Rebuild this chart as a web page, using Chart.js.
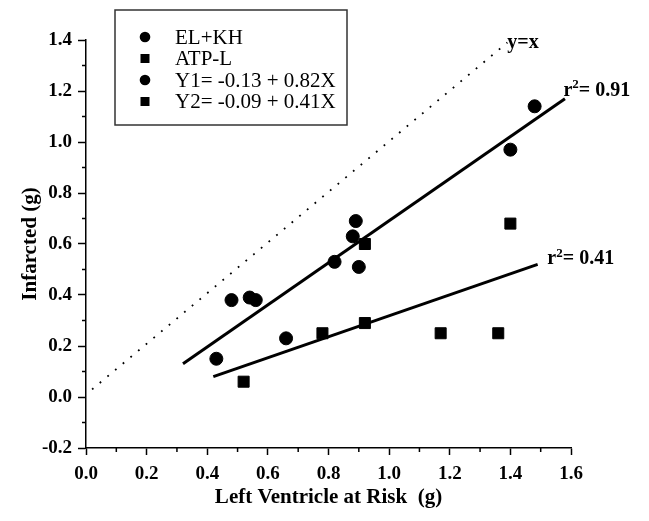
<!DOCTYPE html>
<html>
<head>
<meta charset="utf-8">
<script src="https://cdn.jsdelivr.net/npm/chart.js@4.4.1/dist/chart.umd.min.js"></script>
<style>
  body { margin: 0; background: #fff; }
  #wrap { width: 649px; height: 521px; position: relative; }
</style>
</head>
<body>
<div id="wrap"><canvas id="myChart"></canvas></div>
<script>
// datos
var elkhX = [0.43, 0.48, 0.54, 0.56, 0.66, 0.82, 0.89, 0.88, 0.90, 1.40, 1.48];
var elkhY = [0.15, 0.38, 0.39, 0.38, 0.23, 0.53, 0.69, 0.63, 0.51, 0.97, 1.14];
var atplX = [0.52, 0.78, 0.92, 0.92, 1.17, 1.36, 1.40];
var atplY = [0.06, 0.25, 0.29, 0.60, 0.25, 0.25, 0.68];

// rectas de ajuste y la diagonal y=x (extremos)
var fit1X = [0.32, 1.58];
var fit1Y = [0.13, 1.17];
var fit2X = [0.42, 1.49];
var fit2Y = [0.08, 0.52];
var identX = [0.02, 1.39];
var identY = [0.03, 1.39];

var legendLabels = ['EL+KH', 'ATP-L', 'Y1= -0.13 + 0.82X', 'Y2= -0.09 + 0.41X'];
var legendStyles = ['circle', 'rect', 'circle', 'rect'];

var xTicks = [0.0, 0.2, 0.4, 0.6, 0.8, 1.0, 1.2, 1.4, 1.6];
var yTicks = [-0.2, 0.0, 0.2, 0.4, 0.6, 0.8, 1.0, 1.2, 1.4];

// anotaciones en coordenadas de datos
var r2Labels = ['0.91', '0.41'];
var r2X = [1.575, 1.522];
var r2Y = [1.20, 0.54];
var yxLabel = 'y=x';
var yxX = 1.39;
var yxY = 1.39;

function pares(xs, ys) {
    var out = [];
    for (var i = 0; i < xs.length; i++) {
        out.push({x: xs[i], y: ys[i]});
    }
    return out;
}

var serif = '"Liberation Serif", "Times New Roman", serif';

var extras = {
    id: 'extras',
    afterDraw: function (chart) {
        var ctx = chart.ctx;
        var sx = chart.scales.x;
        var sy = chart.scales.y;
        ctx.save();

        // ticks menores (cada 0.1)
        ctx.strokeStyle = '#000';
        ctx.lineWidth = 1.5;
        ctx.beginPath();
        for (var i = 0; i < xTicks.length - 1; i++) {
            var px = sx.getPixelForValue((xTicks[i] + xTicks[i + 1]) / 2);
            ctx.moveTo(px, sx.top);
            ctx.lineTo(px, sx.top + 4);
        }
        for (var j = 0; j < yTicks.length - 1; j++) {
            var py = sy.getPixelForValue((yTicks[j] + yTicks[j + 1]) / 2);
            ctx.moveTo(sy.right, py);
            ctx.lineTo(sy.right - 4, py);
        }
        ctx.stroke();

        // etiquetas r2
        ctx.fillStyle = '#000';
        ctx.textBaseline = 'middle';
        ctx.textAlign = 'left';
        for (var k = 0; k < r2Labels.length; k++) {
            var tx = sx.getPixelForValue(r2X[k]);
            var ty = sy.getPixelForValue(r2Y[k]);
            ctx.font = 'bold 20px ' + serif;
            ctx.fillText('r', tx, ty);
            var w = ctx.measureText('r').width;
            ctx.font = 'bold 13px ' + serif;
            ctx.fillText('2', tx + w, ty - 6);
            var w2 = ctx.measureText('2').width;
            ctx.font = 'bold 20px ' + serif;
            ctx.fillText('= ' + r2Labels[k], tx + w + w2, ty);
        }
        ctx.font = 'bold 20px ' + serif;
        ctx.fillText(yxLabel, sx.getPixelForValue(yxX), sy.getPixelForValue(yxY));

        // leyenda con recuadro
        var bx = 115, by = 10, bw = 232, bh = 115;
        ctx.lineWidth = 1.5;
        ctx.strokeStyle = '#333';
        ctx.strokeRect(bx, by, bw, bh);
        ctx.font = '21px ' + serif;
        for (var m = 0; m < legendLabels.length; m++) {
            var ly = 37 + m * 21.5;
            ctx.beginPath();
            if (legendStyles[m] === 'circle') {
                ctx.arc(145, ly, 5.3, 0, Math.PI * 2);
            } else {
                ctx.rect(140.5, ly - 4.5, 9, 9);
            }
            ctx.fill();
            ctx.fillText(legendLabels[m], 175, ly + 1);
        }
        ctx.restore();
    }
};

var ctx = document.getElementById('myChart').getContext('2d');
var myChart = new Chart(ctx, {
    type: 'scatter',
    data: {
        datasets: [{
            label: 'EL+KH',
            data: pares(elkhX, elkhY),
            pointStyle: 'circle',
            pointRadius: 6.5,
            backgroundColor: '#000',
            borderColor: '#000',
            borderWidth: 1
        }, {
            label: 'ATP-L',
            data: pares(atplX, atplY),
            pointStyle: 'rect',
            pointRadius: 7.8,
            backgroundColor: '#000',
            borderColor: '#000',
            borderWidth: 1
        }, {
            label: 'Y1',
            data: pares(fit1X, fit1Y),
            showLine: true,
            pointRadius: 0,
            borderColor: '#000',
            borderWidth: 3
        }, {
            label: 'Y2',
            data: pares(fit2X, fit2Y),
            showLine: true,
            pointRadius: 0,
            borderColor: '#000',
            borderWidth: 3
        }, {
            label: 'y=x',
            data: pares(identX, identY),
            showLine: true,
            pointRadius: 0,
            borderColor: '#000',
            borderWidth: 1.8,
            borderDash: [1.8, 8.2]
        }]
    },
    options: {
        responsive: true,
        maintainAspectRatio: false,
        animation: false,
        layout: {
            padding: {top: 40, right: 78, left: 0, bottom: 0}
        },
        plugins: {
            legend: {display: false},
            tooltip: {enabled: false}
        },
        scales: {
            x: {
                type: 'linear',
                min: 0.0,
                max: 1.6,
                afterBuildTicks: function (scale) {
                    scale.ticks = xTicks.map(function (v) { return {value: v}; });
                },
                afterFit: function (scale) { scale.height = 73; },
                grid: {drawOnChartArea: false, drawTicks: true, tickLength: 7, tickWidth: 1.5, tickColor: '#000'},
                border: {display: true, color: '#000', width: 1.5},
                ticks: {
                    color: '#000',
                    padding: 8,
                    maxRotation: 0,
                    font: {family: serif, size: 19, weight: 'bold'},
                    callback: function (v) { return v.toFixed(1); }
                },
                title: {
                    display: true,
                    text: 'Left Ventricle at Risk  (g)',
                    color: '#000',
                    font: {family: serif, size: 21, weight: 'bold', lineHeight: 1.2},
                    padding: {top: 0, bottom: 11}
                }
            },
            y: {
                type: 'linear',
                min: -0.2,
                max: 1.4,
                afterBuildTicks: function (scale) {
                    scale.ticks = yTicks.map(function (v) { return {value: v}; });
                },
                afterFit: function (scale) { scale.width = 86; },
                grid: {drawOnChartArea: false, drawTicks: true, tickLength: 8, tickWidth: 1.5, tickColor: '#000'},
                border: {display: true, color: '#000', width: 1.5},
                ticks: {
                    color: '#000',
                    padding: 6,
                    font: {family: serif, size: 19, weight: 'bold'},
                    callback: function (v) { return v.toFixed(1); }
                },
                title: {
                    display: true,
                    text: 'Infarcted (g)',
                    color: '#000',
                    font: {family: serif, size: 21, weight: 'bold', lineHeight: 1.2},
                    padding: {top: 18, bottom: 0}
                }
            }
        }
    },
    plugins: [extras]
});
</script>
</body>
</html>
